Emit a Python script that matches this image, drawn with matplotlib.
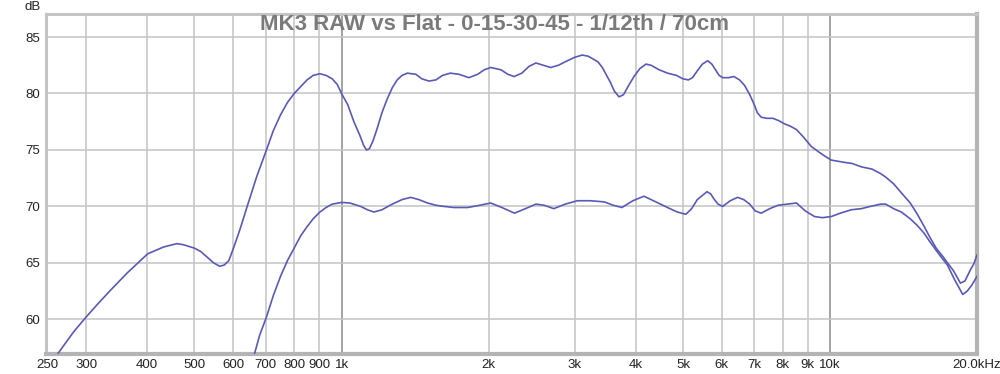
import matplotlib
matplotlib.use("Agg")
import matplotlib.pyplot as plt
from matplotlib.ticker import FixedLocator, FixedFormatter, NullLocator

# frequency response (Hz, dB)
raw_freq = [263, 283, 300, 316, 337, 364, 401, 432, 460, 475, 500, 515, 531, 547, 563,
            575, 588, 602, 620, 641, 670, 702, 725, 750, 775, 800, 850, 875, 903, 930,
            957, 980, 1000, 1030, 1060, 1090, 1110, 1125, 1140, 1160, 1183, 1210, 1240,
            1270, 1300, 1330, 1364, 1420, 1460, 1510, 1560, 1610, 1670, 1740, 1823,
            1900, 1960, 2020, 2120, 2190, 2256, 2340, 2420, 2500, 2590, 2680, 2780,
            2900, 3000, 3110, 3200, 3290, 3350, 3420, 3480, 3550, 3620, 3700, 3780,
            3870, 3970, 4080, 4200, 4300, 4470, 4650, 4850, 5000, 5130, 5230, 5350,
            5480, 5620, 5730, 5850, 5930, 6030, 6200, 6360, 6530, 6690, 6850, 7000,
            7100, 7230, 7420, 7640, 7850, 8080, 8300, 8540, 8800, 9160, 9500, 9800,
            10060, 10700, 11100, 11600, 12200, 12700, 13000, 13500, 14000, 14600,
            15100, 15600, 16000, 16500, 17000, 17400, 17900, 18500, 18900, 19400,
            19700, 20000]
raw_db = [57.0, 58.9, 60.2, 61.3, 62.6, 64.1, 65.8, 66.4, 66.7, 66.6, 66.3, 66.0, 65.5,
          65.0, 64.7, 64.8, 65.2, 66.4, 68.0, 70.0, 72.6, 75.0, 76.7, 78.1, 79.2,
          80.0, 81.2, 81.6, 81.75, 81.6, 81.3, 80.8, 80.0, 79.0, 77.5, 76.3, 75.4,
          75.0, 75.1, 75.8, 76.9, 78.3, 79.5, 80.5, 81.2, 81.6, 81.8, 81.7, 81.3,
          81.1, 81.2, 81.6, 81.8, 81.7, 81.4, 81.7, 82.1, 82.3, 82.1, 81.7, 81.5,
          81.8, 82.4, 82.7, 82.5, 82.3, 82.5, 82.9, 83.2, 83.4, 83.3, 83.0, 82.8,
          82.3, 81.7, 81.0, 80.2, 79.7, 79.9, 80.7, 81.5, 82.2, 82.6, 82.5, 82.1,
          81.8, 81.6, 81.3, 81.2, 81.4, 82.0, 82.6, 82.9, 82.6, 82.0, 81.6, 81.4,
          81.4, 81.5, 81.2, 80.7, 79.9, 79.0, 78.3, 77.9, 77.8, 77.8, 77.6, 77.3,
          77.1, 76.8, 76.2, 75.3, 74.8, 74.4, 74.1, 73.9, 73.8, 73.5, 73.3, 72.9,
          72.6, 72.0, 71.2, 70.3, 69.3, 68.2, 67.3, 66.3, 65.6, 65.0, 64.3, 63.2,
          63.4, 64.4, 64.9, 65.7]

flat_freq = [664, 680, 702, 725, 750, 775, 802, 825, 850, 875, 903, 930, 957, 1000,
             1040, 1094, 1130, 1165, 1210, 1270, 1330, 1385, 1440, 1500, 1560, 1620,
             1700, 1810, 1920, 2020, 2130, 2260, 2380, 2500, 2600, 2720, 2870, 3040,
             3230, 3450, 3600, 3750, 3950, 4160, 4400, 4650, 4870, 5070, 5210, 5350,
             5600, 5700, 5800, 5900, 6030, 6250, 6470, 6660, 6850, 7030, 7230, 7530,
             7830, 8180, 8540, 8900, 9300, 9650, 10060, 10500, 11060, 11600, 12100,
             12700, 13000, 13500, 14000, 14600, 15100, 15600, 16000, 16500, 16900,
             17400, 18000, 18700, 19100, 19500, 20000]
flat_db = [57.0, 58.6, 60.2, 62.1, 63.8, 65.2, 66.4, 67.4, 68.2, 68.9, 69.5, 69.9, 70.2,
           70.35, 70.3, 70.0, 69.7, 69.5, 69.7, 70.2, 70.6, 70.8, 70.6, 70.3, 70.1,
           70.0, 69.9, 69.9, 70.1, 70.3, 69.9, 69.4, 69.8, 70.2, 70.1, 69.8, 70.2,
           70.5, 70.5, 70.4, 70.1, 69.9, 70.5, 70.9, 70.4, 69.9, 69.5, 69.3, 69.8,
           70.6, 71.3, 71.1, 70.6, 70.2, 70.0, 70.5, 70.8, 70.6, 70.2, 69.6, 69.4,
           69.8, 70.1, 70.2, 70.3, 69.6, 69.1, 69.0, 69.1, 69.4, 69.7, 69.8, 70.0,
           70.2, 70.2, 69.8, 69.5, 68.9, 68.3, 67.6, 66.9, 66.1, 65.5, 64.8, 63.5,
           62.2, 62.5, 63.0, 63.8]

xticks = [250, 300, 400, 500, 600, 700, 800, 900, 1000, 2000, 3000, 4000, 5000,
          6000, 7000, 8000, 9000, 10000, 20000]
xlabels = ["250", "300", "400", "500", "600", "700", "800", "900", "1k", "2k", "3k",
           "4k", "5k", "6k", "7k", "8k", "9k", "10k", "20.0kHz"]
yticks = [60, 65, 70, 75, 80, 85]

line_col = "#5a5ab4"
plt.rcParams["font.family"] = ["Liberation Sans", "DejaVu Sans"]

fig = plt.figure(figsize=(10, 3.74), dpi=100)
ax = fig.add_axes([0.046, 0.0548, 0.931, 0.9078])

ax.set_xscale("log")
ax.set_xlim(248.3, 20000)
ax.set_ylim(56.97, 87.04)

# grid: light lines, darker at the decades
for f in xticks[1:-1]:
    if f in (1000, 10000):
        ax.axvline(f, color="#8a8a8a", lw=1.1, zorder=1)
    else:
        ax.axvline(f, color="#c4c4c4", lw=1.1, zorder=1)
for d in yticks:
    ax.axhline(d, color="#c4c4c4", lw=1.1, zorder=1)

ax.plot(raw_freq, raw_db, color=line_col, lw=1.2, zorder=3)
ax.plot(flat_freq, flat_db, color=line_col, lw=1.2, zorder=3)

ax.xaxis.set_major_locator(FixedLocator(xticks))
ax.xaxis.set_major_formatter(FixedFormatter(xlabels))
ax.xaxis.set_minor_locator(NullLocator())
ax.set_yticks(yticks)
ax.set_yticklabels([str(v) for v in yticks])
ax.tick_params(axis="both", length=0, labelsize=9.5, colors="#222222")
ax.tick_params(axis="x", pad=4)
ax.tick_params(axis="y", pad=4)

for side in ("top", "left"):
    ax.spines[side].set_color("#c4c4c4")
    ax.spines[side].set_linewidth(2.2)
for side in ("right", "bottom"):
    ax.spines[side].set_color("#b4b4b4")
    ax.spines[side].set_linewidth(3.0)

fig.text(0.033, 1 - 7 / 374, "dB", ha="center", va="center", fontsize=9.5, color="#222222")
fig.text(0.495, 1 - 24 / 374, "MK3 RAW vs Flat - 0-15-30-45 - 1/12th / 70cm",
         ha="center", va="center", fontsize=16, fontweight="bold", color="#7a7a7a",
         family=["Liberation Sans Narrow", "Liberation Sans", "DejaVu Sans"], zorder=5)

fig.savefig("out.png", dpi=100)
